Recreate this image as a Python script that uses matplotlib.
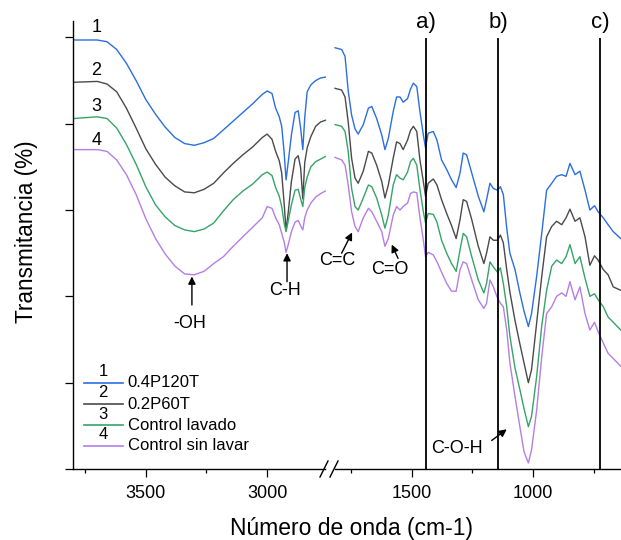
import matplotlib
matplotlib.use("Agg")
import matplotlib.pyplot as plt
from matplotlib.lines import Line2D

plt.rcParams["font.family"] = ["Liberation Sans", "DejaVu Sans"]

# wavenumbers (cm-1) of the high-frequency segment, left of the axis break
wn_high = [3800, 3700, 3660, 3620, 3580, 3540, 3500, 3460, 3420, 3380, 3340, 3300,
           3260, 3220, 3180, 3140, 3100, 3060, 3020, 3000, 2980, 2965, 2950, 2940,
           2930, 2922, 2912, 2900, 2885, 2872, 2862, 2853, 2845, 2835, 2820, 2800,
           2780, 2760]

# stacked transmittance (arbitrary units, offset per sample)
t1_high = [4.97, 4.97, 4.95, 4.86, 4.70, 4.50, 4.28, 4.11, 3.96, 3.84, 3.77, 3.75,
           3.78, 3.83, 3.93, 4.03, 4.13, 4.23, 4.34, 4.38, 4.35, 4.18, 4.08, 3.97,
           3.67, 3.35, 3.58, 3.87, 4.13, 4.15, 3.95, 3.70, 4.07, 4.37, 4.45, 4.50,
           4.53, 4.54]
t2_high = [4.48, 4.49, 4.46, 4.37, 4.18, 3.95, 3.71, 3.53, 3.38, 3.28, 3.21, 3.20,
           3.24, 3.31, 3.43, 3.54, 3.64, 3.73, 3.84, 3.88, 3.82, 3.68, 3.57, 3.43,
           3.08, 2.76, 3.00, 3.33, 3.59, 3.63, 3.49, 3.13, 3.55, 3.72, 3.85, 3.97,
           4.02, 4.04]
t3_high = [4.06, 4.08, 4.06, 3.95, 3.76, 3.53, 3.27, 3.06, 2.92, 2.82, 2.77, 2.75,
           2.78, 2.85, 2.99, 3.12, 3.22, 3.30, 3.41, 3.44, 3.40, 3.26, 3.16, 3.04,
           2.85, 2.75, 2.89, 3.06, 3.23, 3.24, 3.13, 3.04, 3.26, 3.38, 3.50, 3.56,
           3.59, 3.62]
t4_high = [3.70, 3.70, 3.68, 3.58, 3.41, 3.18, 2.90, 2.67, 2.49, 2.35, 2.26, 2.25,
           2.29, 2.38, 2.46, 2.58, 2.69, 2.80, 2.91, 3.04, 3.02, 2.91, 2.83, 2.73,
           2.63, 2.51, 2.61, 2.75, 2.86, 2.88, 2.82, 2.77, 2.91, 3.00, 3.08, 3.15,
           3.19, 3.22]

# fingerprint segment, right of the break
wn_low = [1815, 1788, 1774, 1761, 1747, 1733, 1720, 1699, 1678, 1664, 1644, 1623,
          1610, 1596, 1576, 1562, 1548, 1535, 1517, 1505, 1493, 1479, 1466, 1452,
          1443, 1432, 1411, 1396, 1377, 1356, 1336, 1317, 1301, 1288, 1274, 1253,
          1226, 1203, 1192, 1178, 1164, 1147, 1135, 1123, 1109, 1096, 1075, 1055,
          1038, 1020, 1007, 986, 965, 945, 924, 904, 883, 865, 849, 828, 808, 787,
          767, 748, 733, 712, 692, 671, 640]
t1_low = [4.88, 4.86, 4.78, 4.38, 4.10, 3.94, 3.88, 3.99, 4.18, 4.20, 4.06, 3.87,
          3.70, 3.83, 4.14, 4.31, 4.31, 4.25, 4.29, 4.40, 4.47, 4.43, 4.14, 3.87,
          3.72, 3.89, 3.91, 3.81, 3.58, 3.47, 3.35, 3.26, 3.43, 3.66, 3.64, 3.43,
          3.16, 2.98, 3.12, 3.31, 3.25, 3.23, 3.27, 3.18, 2.79, 2.50, 2.31, 2.04,
          1.83, 1.65, 1.80, 2.23, 2.73, 3.23, 3.31, 3.39, 3.41, 3.39, 3.54, 3.41,
          3.45, 3.23, 3.00, 3.05, 2.98, 2.91, 2.83, 2.75, 2.67]
t2_low = [4.41, 4.39, 4.31, 4.02, 3.60, 3.37, 3.31, 3.45, 3.68, 3.66, 3.52, 3.33,
          3.14, 3.29, 3.60, 3.79, 3.77, 3.70, 3.81, 3.92, 3.97, 3.91, 3.58, 3.33,
          3.16, 3.31, 3.36, 3.29, 3.12, 2.96, 2.82, 2.67, 2.89, 3.12, 3.10, 2.89,
          2.58, 2.38, 2.50, 2.69, 2.65, 2.65, 2.71, 2.62, 2.31, 2.05, 1.72, 1.45,
          1.23, 1.00, 1.15, 1.69, 2.23, 2.69, 2.81, 2.87, 2.83, 2.91, 3.01, 2.87,
          2.91, 2.69, 2.36, 2.47, 2.42, 2.31, 2.25, 2.11, 2.07]
t3_low = [3.99, 3.97, 3.91, 3.68, 3.25, 3.04, 3.00, 3.14, 3.29, 3.27, 3.14, 2.94,
          2.79, 2.94, 3.29, 3.41, 3.37, 3.35, 3.44, 3.56, 3.60, 3.52, 3.24, 2.98,
          2.85, 2.96, 2.95, 2.86, 2.65, 2.50, 2.38, 2.29, 2.54, 2.73, 2.69, 2.46,
          2.19, 2.04, 2.15, 2.40, 2.34, 2.28, 2.33, 2.15, 1.88, 1.54, 1.17, 0.92,
          0.70, 0.49, 0.61, 1.07, 1.66, 2.07, 2.35, 2.42, 2.38, 2.46, 2.60, 2.38,
          2.46, 2.21, 2.00, 2.03, 1.96, 1.88, 1.76, 1.70, 1.61]
t4_low = [3.61, 3.58, 3.52, 3.29, 2.98, 2.81, 2.75, 2.91, 3.02, 2.98, 2.87, 2.75,
          2.58, 2.67, 2.94, 3.04, 3.00, 3.04, 3.08, 3.19, 3.21, 3.20, 2.91, 2.65,
          2.46, 2.51, 2.48, 2.40, 2.28, 2.15, 2.06, 2.06, 2.31, 2.40, 2.38, 2.19,
          1.96, 1.86, 1.92, 2.19, 2.11, 1.98, 1.92, 1.88, 1.61, 1.23, 0.84, 0.49,
          0.20, 0.07, 0.22, 0.68, 1.30, 1.80, 1.88, 2.00, 2.04, 2.00, 2.17, 1.96,
          2.11, 1.80, 1.61, 1.70, 1.59, 1.46, 1.34, 1.28, 1.19]

labels = ["0.4P120T", "0.2P60T", "Control lavado", "Control sin lavar"]
colors = ["#2a6ee0", "#4a4a4a", "#35a468", "#b47ee6"]
band_lines = [1440, 1145, 726]
band_names = ["a)", "b)", "c)"]

high = [t1_high, t2_high, t3_high, t4_high]
low = [t1_low, t2_low, t3_low, t4_low]

fig = plt.figure(figsize=(6.21, 5.4), dpi=100)
ax1 = fig.add_axes([0.1176, 0.1315, 0.4122, 0.8296])
ax2 = fig.add_axes([0.5298, 0.1315, 0.4702, 0.8296])

for i in range(4):
    ax1.plot(wn_high, high[i], color=colors[i], lw=1.0)
    ax2.plot(wn_low, low[i], color=colors[i], lw=1.0)

ymax = 5.19
ax1.set_xlim(3800, 2745)
ax2.set_xlim(1840, 639)
for ax in (ax1, ax2):
    ax.set_ylim(0, ymax)
    ax.spines["top"].set_visible(False)
    ax.spines["right"].set_visible(False)
    ax.spines["bottom"].set_linewidth(1.0)
    ax.tick_params(axis="x", direction="out", length=5.8, width=0.9,
                   labelsize=13, pad=6)
    ax.tick_params(axis="x", which="minor", direction="out", length=3, width=0.9)

ax1.spines["left"].set_linewidth(1.0)
ax1.set_yticks([0, 1, 2, 3, 4, 5])
ax1.set_yticklabels([])
ax1.tick_params(axis="y", direction="out", length=5.8, width=0.9)
ax1.set_xticks([3500, 3000])
ax1.set_xticks([3750, 3250], minor=True)
ax1.spines["bottom"].set_bounds(3800, 2760)

ax2.spines["left"].set_visible(False)
ax2.set_yticks([])
ax2.set_xticks([1500, 1000])
ax2.set_xticks([1750, 1250, 750], minor=True)
ax2.spines["bottom"].set_bounds(1815, 639)

# break marks on the x axis
for x0 in (320, 330):
    fig.add_artist(Line2D([x0 / 621, (x0 + 8) / 621],
                          [1 - 477 / 540, 1 - 461 / 540],
                          transform=fig.transFigure, color="k", lw=1.0))

# band markers
ax2.vlines(band_lines, 0, 4.99, color="k", lw=1.3)
for x, name in zip(band_lines, band_names):
    ax2.text(x, 5.17, name, ha="center", va="center", fontsize=16, clip_on=False)

# curve numbers
for num, yv in zip(["1", "2", "3", "4"], [5.11, 4.62, 4.20, 3.81]):
    ax1.text(3704, yv, num, ha="center", va="center", fontsize=13)

# band annotations
arrow = dict(arrowstyle="-|>", color="k", lw=1.0, mutation_scale=11,
             shrinkA=0, shrinkB=0)
ax1.annotate("", xy=(3310, 2.23), xytext=(3310, 1.90), arrowprops=arrow)
ax1.text(3318, 1.69, "-OH", ha="center", va="center", fontsize=13)
ax1.annotate("", xy=(2918, 2.50), xytext=(2918, 2.17), arrowprops=arrow)
ax1.text(2927, 2.07, "C-H", ha="center", va="center", fontsize=13)
ax2.annotate("", xy=(1745, 2.74), xytext=(1788, 2.50), arrowprops=arrow)
ax2.text(1807, 2.42, "C=C", ha="center", va="center", fontsize=13, clip_on=False)
ax2.annotate("", xy=(1582, 2.60), xytext=(1556, 2.44), arrowprops=arrow)
ax2.text(1589, 2.31, "C=O", ha="center", va="center", fontsize=13)
ax2.annotate("", xy=(1109, 0.46), xytext=(1171, 0.33), arrowprops=arrow)
ax2.text(1314, 0.24, "C-O-H", ha="center", va="center", fontsize=13)

# legend drawn Origin-style: number above each sample line
leg_y = [0.192, 0.145, 0.098, 0.052]
for i in range(4):
    ax1.plot([0.043, 0.195], [leg_y[i], leg_y[i]], color=colors[i], lw=1.2,
             transform=ax1.transAxes)
    ax1.text(0.118, leg_y[i] + 0.008, str(i + 1), transform=ax1.transAxes,
             ha="center", va="bottom", fontsize=12)
    ax1.text(0.214, leg_y[i], labels[i], transform=ax1.transAxes,
             ha="left", va="center", fontsize=12)

fig.text(351.7 / 621, 1 - 528 / 540, "Número de onda (cm-1)",
         ha="center", va="center", fontsize=16.5)
fig.text(26.7 / 621, 1 - 231.7 / 540, "Transmitancia (%)",
         ha="center", va="center", rotation=90, fontsize=16.3)

fig.savefig("out.png", dpi=100)
